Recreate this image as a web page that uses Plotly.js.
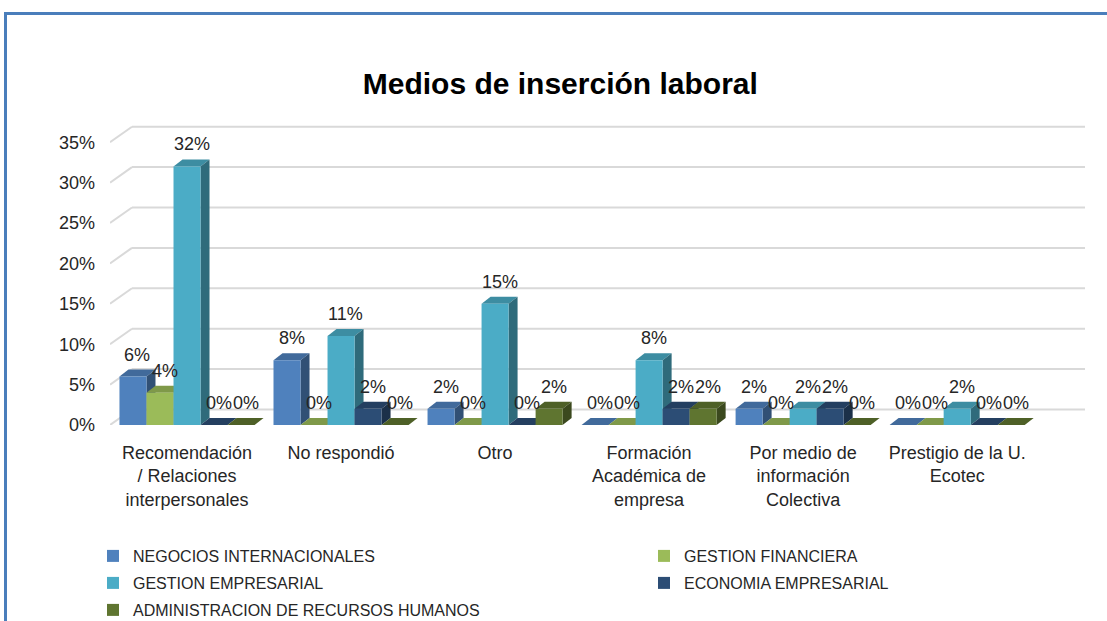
<!DOCTYPE html>
<html><head><meta charset="utf-8">
<script src="https://cdn.plot.ly/plotly-3.0.1.min.js"></script>
<style>
html,body{margin:0;padding:0;background:#fff;}
#frame{position:absolute;left:4px;top:12px;width:1103px;height:609px;border-left:3px solid #4a7ebb;border-top:3px solid #4a7ebb;box-sizing:border-box;}
#chart{width:1100px;height:606px;}
</style></head><body><div id="frame"><div id="chart"></div></div>
<script>
const categories = [
  "Recomendación<br>/ Relaciones<br>interpersonales",
  "No respondió",
  "Otro",
  "Formación<br>Académica de<br>empresa",
  "Por medio de<br>información<br>Colectiva",
  "Prestigio de la U.<br>Ecotec"
];
const seriesNames = ["NEGOCIOS INTERNACIONALES","GESTION FINANCIERA","GESTION EMPRESARIAL","ECONOMIA EMPRESARIAL","ADMINISTRACION DE RECURSOS HUMANOS"];
const negocios = [6, 8, 2, 0, 2, 0];
const financiera = [4, 0, 0, 0, 0, 0];
const empresarial = [32, 11, 15, 8, 2, 2];
const economia = [0, 2, 0, 2, 2, 0];
const administracion = [0, 0, 2, 2, 0, 0];
const yTickVals = [0, 5, 10, 15, 20, 25, 30, 35];

const series = [negocios, financiera, empresarial, economia, administracion];
const frontColors = ["#4f81bd", "#9bbb59", "#4bacc6", "#2c4d75", "#5f7530"];
const legendIds = ["legend", "legend2", "legend3", "legend4", "legend5"];
const FONT = "'Liberation Sans', Arial, sans-serif";

function shade(hex, f) {
  const n = parseInt(hex.slice(1), 16);
  const r = Math.round(((n >> 16) & 255) * f), g = Math.round(((n >> 8) & 255) * f), b = Math.round((n & 255) * f);
  return "rgb(" + r + "," + g + "," + b + ")";
}

const W = 1100, H = 606;
const M = {l: 103, r: 22, t: 107, b: 196};
const xRange = [-0.5, 5.83];
const yRange = [0, 37.5];
const pxPerCat = (W - M.l - M.r) / (xRange[1] - xRange[0]);
const pxPerUnit = (H - M.t - M.b) / (yRange[1] - yRange[0]);
const bargap = 0.123;
const nS = series.length;
const bw = (1 - bargap) / nS;
const ddx = 9 / pxPerCat, ddy = 7 / pxPerUnit;      // bar depth
const gdx = 22 / pxPerCat, gdy = 15.5 / pxPerUnit;  // back wall depth

const traces = series.map((vals, j) => ({
  type: "bar",
  name: seriesNames[j],
  legend: legendIds[j],
  x: categories,
  y: vals,
  marker: {color: frontColors[j], line: {width: 0}},
  hoverinfo: "none"
}));
traces.push({type: "scatter", x: [xRange[0]], y: [0], xaxis: "x2", yaxis: "y", mode: "markers",
  marker: {opacity: 0}, showlegend: false, hoverinfo: "none"});

const shapes = [];
const annotations = [];
yTickVals.forEach(t => {
  shapes.push({type: "line", xref: "x2", yref: "y", layer: "below",
    x0: xRange[0] + gdx, x1: xRange[1], y0: t + gdy, y1: t + gdy, line: {color: "#d9d9d9", width: 2}});
  shapes.push({type: "line", xref: "x2", yref: "y", layer: "below",
    x0: xRange[0], x1: xRange[0] + gdx, y0: t, y1: t + gdy, line: {color: "#d9d9d9", width: 2}});
});
series.forEach((vals, j) => {
  vals.forEach((v, i) => {
    const xc = i - (1 - bargap) / 2 + (j + 0.5) * bw;
    const x0 = xc - bw / 2, x1 = xc + bw / 2;
    shapes.push({type: "path", xref: "x2", yref: "y", layer: "below",
      path: `M${x0},${v} L${x1},${v} L${x1 + ddx},${v + ddy} L${x0 + ddx},${v + ddy} Z`,
      fillcolor: shade(frontColors[j], 0.82), line: {width: 0}});
    if (v > 0) {
      shapes.push({type: "path", xref: "x2", yref: "y", layer: "below",
        path: `M${x1},0 L${x1},${v} L${x1 + ddx},${v + ddy} L${x1 + ddx},${ddy} Z`,
        fillcolor: shade(frontColors[j], 0.62), line: {width: 0}});
    }
    annotations.push({xref: "x2", yref: "y", x: xc + ddx / 2, y: v + ddy, yshift: 3, yanchor: "bottom",
      showarrow: false, text: v + "%", font: {family: FONT, size: 18, color: "#262626"}});
  });
});

const legendBase = {orientation: "h", xref: "container", yref: "container", xanchor: "left",
  yanchor: "top", itemwidth: 30,
  font: {family: FONT, size: 16, color: "#262626"}, bgcolor: "rgba(0,0,0,0)"};
const colX = [86 / W, 637 / W];
const rowY = [1 - 524 / H, 1 - 551 / H, 1 - 578 / H];
const legendPos = [[0, 0], [1, 0], [0, 1], [1, 1], [0, 2]];

const layout = {
  width: W, height: H,
  margin: M,
  paper_bgcolor: "#ffffff", plot_bgcolor: "rgba(0,0,0,0)",
  font: {family: FONT, size: 17, color: "#262626"},
  title: {text: "<b>Medios de inserción laboral</b>", font: {family: FONT, size: 30, color: "#000"},
    xref: "container", x: 0.503, yref: "container", y: 1 - 68 / H, yanchor: "middle"},
  barmode: "group", bargap: bargap, bargroupgap: 0,
  xaxis: {type: "category", range: xRange, showgrid: false, zeroline: false, showline: false,
    ticks: "", ticklabelstandoff: 15, tickfont: {family: FONT, size: 18, color: "#262626"}, fixedrange: true},
  xaxis2: {overlaying: "x", range: xRange, visible: false, fixedrange: true},
  yaxis: {range: yRange, tickvals: yTickVals, ticktext: yTickVals.map(v => v + "%"), showgrid: false,
    zeroline: false, showline: false, ticks: "", ticklabelstandoff: 14,
    tickfont: {family: FONT, size: 18, color: "#262626"}, fixedrange: true},
  shapes: shapes,
  annotations: annotations,
  showlegend: true
};
legendIds.forEach((id, j) => {
  const p = legendPos[j];
  layout[id] = Object.assign({}, legendBase, {x: colX[p[0]], y: rowY[p[1]]});
});

Plotly.newPlot("chart", traces, layout, {displayModeBar: false, staticPlot: true});
</script></body></html>
